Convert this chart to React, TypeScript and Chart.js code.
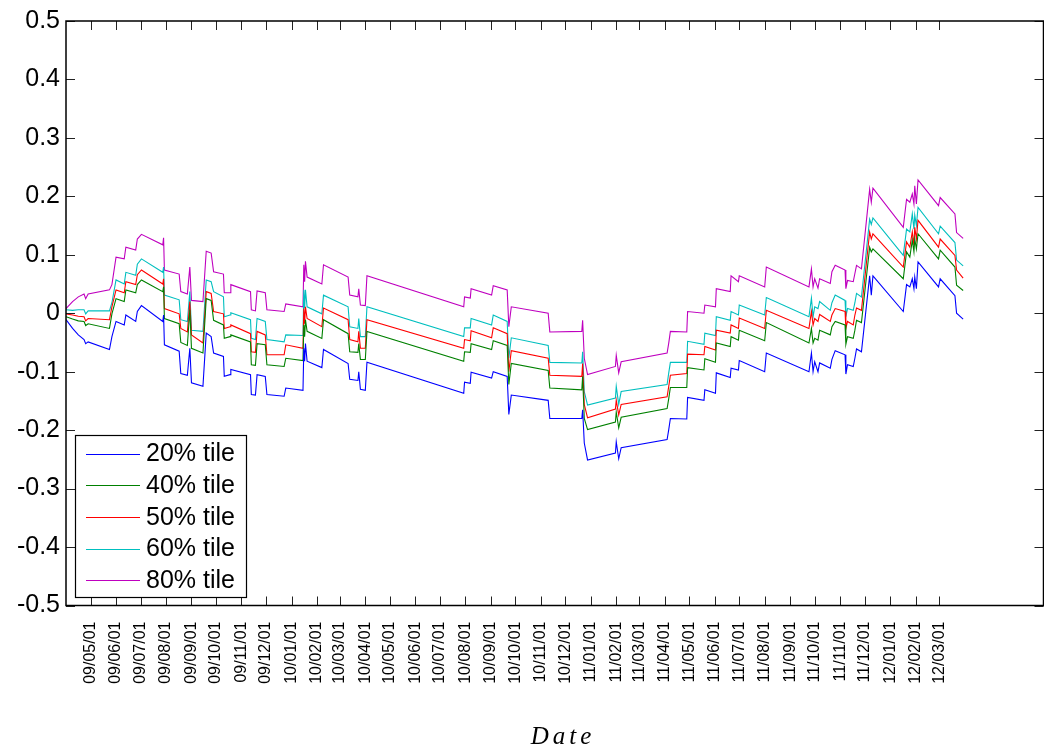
import React, { useEffect, useRef } from 'react';
import { Chart, registerables } from 'chart.js';

Chart.register(...registerables);

// Month-start tick labels (yy/mm/dd)
const tickLabels = [
  '09/05/01', '09/06/01', '09/07/01', '09/08/01', '09/09/01', '09/10/01', '09/11/01', '09/12/01',
  '10/01/01', '10/02/01', '10/03/01', '10/04/01', '10/05/01', '10/06/01', '10/07/01', '10/08/01',
  '10/09/01', '10/10/01', '10/11/01', '10/12/01',
  '11/01/01', '11/02/01', '11/03/01', '11/04/01', '11/05/01', '11/06/01', '11/07/01', '11/08/01',
  '11/09/01', '11/10/01', '11/11/01', '11/12/01',
  '12/01/01', '12/02/01', '12/03/01',
];
const yTicks = [-0.5, -0.4, -0.3, -0.2, -0.1, 0, 0.1, 0.2, 0.3, 0.4, 0.5];
const xRangeDays = [-30, 1162]; // days relative to 2009-05-01
const seriesLabels = ['20% tile', '40% tile', '50% tile', '60% tile', '80% tile'];
const seriesColors = ['#0000ff', '#008000', '#ff0000', '#00bfbf', '#bf00bf'];

// Days since 2009-05-01
const days = [
  -30, -22, -15, -8, -6, -3, 23, 26, 31, 41,
  43, 55, 57, 62, 88, 89, 90, 108, 110, 118,
  121, 123, 137, 141, 147, 150, 162, 163, 170, 171,
  195, 196, 201, 203, 213, 215, 236, 238, 259, 260,
  261, 262, 264, 282, 284, 314, 316, 326, 327, 329,
  335, 337, 455, 456, 463, 464, 489, 491, 508, 510,
  513, 558, 560, 599, 600, 602, 606, 640, 641, 644,
  647, 703, 705, 707, 727, 728, 748, 749, 762, 763,
  780, 781, 790, 791, 822, 824, 876, 879, 881, 883,
  887, 889, 902, 904, 908, 920, 921, 923, 930, 932,
  934, 940, 950, 952, 954, 991, 995, 999, 1002, 1004,
  1005, 1007, 1009, 1034, 1036, 1054, 1056, 1064,
];

const p80 = [
  0.008, 0.020, 0.028, 0.033, 0.025, 0.033, 0.040, 0.049, 0.096, 0.093,
  0.113, 0.108, 0.127, 0.135, 0.117, 0.129, 0.074, 0.067, 0.037, 0.033,
  0.079, 0.022, 0.020, 0.106, 0.103, 0.071, 0.067, 0.035, 0.035, 0.049,
  0.037, 0.006, 0.004, 0.038, 0.035, 0.006, 0.003, 0.016, 0.011, 0.083,
  0.054, 0.089, 0.062, 0.050, 0.083, 0.062, 0.031, 0.028, 0.042, 0.014,
  0.013, 0.064, 0.011, 0.028, 0.026, 0.042, 0.031, 0.047, 0.040, -0.023,
  0.011, 0.000, -0.032, -0.031, -0.012, -0.077, -0.105, -0.091, -0.072, -0.102,
  -0.083, -0.068, -0.051, -0.031, -0.032, 0.003, 0.000, 0.014, 0.011, 0.042,
  0.037, 0.064, 0.054, 0.064, 0.045, 0.079, 0.045, 0.076, 0.045, 0.059,
  0.043, 0.059, 0.051, 0.071, 0.082, 0.074, 0.042, 0.056, 0.054, 0.068,
  0.082, 0.076, 0.212, 0.190, 0.214, 0.147, 0.195, 0.190, 0.204, 0.187,
  0.218, 0.187, 0.228, 0.184, 0.198, 0.170, 0.138, 0.128,
];

const p60 = [
  0.006, 0.005, 0.006, 0.006, -0.001, 0.004, 0.004, 0.018, 0.057, 0.050,
  0.070, 0.065, 0.084, 0.093, 0.070, 0.079, 0.031, 0.023, -0.011, -0.014,
  0.037, -0.029, -0.031, 0.057, 0.054, 0.037, 0.028, -0.006, -0.003, 0.001,
  -0.011, -0.043, -0.045, -0.009, -0.014, -0.045, -0.049, -0.037, -0.038, 0.040,
  0.008, 0.040, 0.011, -0.001, 0.031, 0.011, -0.023, -0.026, -0.009, -0.040,
  -0.040, 0.011, -0.040, -0.025, -0.025, -0.009, -0.020, -0.003, -0.014, -0.077,
  -0.042, -0.055, -0.084, -0.085, -0.066, -0.134, -0.157, -0.145, -0.125, -0.156,
  -0.134, -0.122, -0.102, -0.084, -0.084, -0.048, -0.053, -0.034, -0.038, -0.006,
  -0.012, 0.003, -0.003, 0.014, -0.003, 0.027, -0.006, 0.026, -0.006, 0.011,
  0.008, 0.020, 0.005, 0.018, 0.031, 0.022, -0.006, 0.008, 0.005, 0.018,
  0.034, 0.028, 0.161, 0.152, 0.163, 0.099, 0.144, 0.139, 0.170, 0.144,
  0.168, 0.150, 0.181, 0.136, 0.149, 0.121, 0.091, 0.081,
];

const p50 = [
  -0.001, -0.003, -0.005, -0.006, -0.013, -0.009, -0.011, 0.011, 0.040, 0.035,
  0.054, 0.049, 0.066, 0.074, 0.050, 0.059, 0.008, -0.001, -0.026, -0.032,
  0.020, -0.037, -0.051, 0.037, 0.034, 0.003, -0.001, -0.026, -0.023, -0.020,
  -0.035, -0.066, -0.067, -0.031, -0.037, -0.071, -0.071, -0.054, -0.060, 0.008,
  -0.018, 0.011, -0.009, -0.023, 0.009, -0.011, -0.045, -0.049, -0.031, -0.060,
  -0.060, -0.011, -0.060, -0.045, -0.047, -0.030, -0.042, -0.025, -0.035, -0.100,
  -0.064, -0.077, -0.106, -0.108, -0.086, -0.156, -0.179, -0.164, -0.149, -0.174,
  -0.156, -0.143, -0.125, -0.106, -0.103, -0.070, -0.071, -0.057, -0.063, -0.029,
  -0.034, -0.020, -0.026, -0.008, -0.026, 0.005, -0.026, 0.003, -0.020, -0.009,
  -0.014, -0.002, -0.014, -0.003, 0.008, 0.003, -0.026, -0.014, -0.020, -0.003,
  0.009, 0.005, 0.139, 0.127, 0.136, 0.079, 0.122, 0.113, 0.139, 0.116,
  0.147, 0.127, 0.159, 0.113, 0.127, 0.099, 0.074, 0.060,
];

const p40 = [
  -0.006, -0.010, -0.013, -0.014, -0.021, -0.018, -0.026, -0.001, 0.025, 0.020,
  0.040, 0.035, 0.049, 0.057, 0.037, 0.045, -0.009, -0.018, -0.050, -0.055,
  0.006, -0.060, -0.068, 0.025, 0.022, -0.012, -0.020, -0.043, -0.040, -0.037,
  -0.049, -0.088, -0.089, -0.052, -0.054, -0.088, -0.091, -0.077, -0.081, -0.020,
  -0.040, -0.011, -0.031, -0.043, -0.011, -0.035, -0.066, -0.067, -0.052, -0.079,
  -0.079, -0.031, -0.082, -0.066, -0.067, -0.052, -0.062, -0.047, -0.055, -0.122,
  -0.086, -0.098, -0.128, -0.131, -0.108, -0.180, -0.199, -0.186, -0.169, -0.196,
  -0.178, -0.163, -0.146, -0.127, -0.127, -0.093, -0.097, -0.078, -0.084, -0.051,
  -0.057, -0.040, -0.046, -0.029, -0.047, -0.016, -0.051, -0.026, -0.051, -0.043,
  -0.046, -0.029, -0.037, -0.023, -0.014, -0.020, -0.053, -0.040, -0.043, -0.029,
  -0.012, -0.016, 0.113, 0.105, 0.110, 0.059, 0.105, 0.096, 0.125, 0.105,
  0.127, 0.110, 0.136, 0.093, 0.108, 0.079, 0.048, 0.039,
];

const p20 = [
  -0.011, -0.026, -0.037, -0.045, -0.052, -0.049, -0.062, -0.040, -0.014, -0.020,
  -0.003, -0.014, 0.003, 0.013, -0.014, -0.003, -0.054, -0.065, -0.103, -0.106,
  -0.060, -0.119, -0.125, -0.034, -0.040, -0.068, -0.074, -0.108, -0.105, -0.096,
  -0.105, -0.139, -0.140, -0.105, -0.108, -0.139, -0.142, -0.128, -0.132, -0.060,
  -0.082, -0.052, -0.082, -0.093, -0.062, -0.086, -0.113, -0.115, -0.100, -0.130,
  -0.132, -0.084, -0.137, -0.118, -0.120, -0.101, -0.111, -0.100, -0.108, -0.173,
  -0.140, -0.149, -0.180, -0.180, -0.165, -0.222, -0.251, -0.239, -0.220, -0.249,
  -0.230, -0.216, -0.199, -0.180, -0.181, -0.144, -0.149, -0.131, -0.137, -0.102,
  -0.110, -0.094, -0.097, -0.081, -0.100, -0.068, -0.100, -0.068, -0.100, -0.083,
  -0.100, -0.085, -0.094, -0.079, -0.064, -0.071, -0.104, -0.088, -0.091, -0.077,
  -0.061, -0.066, 0.064, 0.031, 0.064, 0.003, 0.049, 0.045, 0.059, 0.042,
  0.062, 0.042, 0.088, 0.045, 0.059, 0.030, 0.000, -0.010,
];

const seriesValues = [p20, p40, p50, p60, p80];

const ORIGIN = Date.UTC(2009, 4, 1);
function labelToDay(s: string): number {
  const [yy, mm, dd] = s.split('/').map(Number);
  return Math.round((Date.UTC(2000 + yy, mm - 1, dd) - ORIGIN) / 86400000);
}
const tickDays = tickLabels.map(labelToDay);

const SANS = '"Liberation Sans", Arial, Helvetica, sans-serif';

const framePlugin = {
  id: 'matlabFrame',
  afterDraw(chart: any) {
    const { ctx, chartArea } = chart;
    const { left, right, top, bottom } = chartArea;
    const xs = chart.scales.x;
    const ys = chart.scales.y;
    const TL = 9;
    ctx.save();
    // inward ticks on all four sides
    ctx.strokeStyle = '#222';
    ctx.lineWidth = 1;
    ctx.beginPath();
    tickDays.forEach((d) => {
      const px = Math.round(xs.getPixelForValue(d)) + 0.5;
      ctx.moveTo(px, bottom);
      ctx.lineTo(px, bottom - TL);
      ctx.moveTo(px, top);
      ctx.lineTo(px, top + TL);
    });
    yTicks.forEach((v) => {
      const py = Math.round(ys.getPixelForValue(v)) + 0.5;
      ctx.moveTo(left, py);
      ctx.lineTo(left + TL, py);
      ctx.moveTo(right, py);
      ctx.lineTo(right - TL, py);
    });
    ctx.stroke();
    // axes box
    ctx.strokeStyle = '#000';
    ctx.lineWidth = 1.5;
    ctx.strokeRect(left, top, right - left, bottom - top);

    // legend
    const lx = 75.5, ly = 435.5, lw = 171, lh = 162;
    ctx.fillStyle = '#fff';
    ctx.fillRect(lx, ly, lw, lh);
    ctx.strokeStyle = '#000';
    ctx.lineWidth = 1.2;
    ctx.strokeRect(lx, ly, lw, lh);
    ctx.font = '25px ' + SANS;
    ctx.textBaseline = 'middle';
    ctx.textAlign = 'left';
    for (let i = 0; i < seriesLabels.length; i++) {
      const cy = 453.5 + i * 31.7;
      ctx.fillStyle = seriesColors[i];
      ctx.fillRect(86, Math.round(cy), 54, 1);
      ctx.fillStyle = '#000';
      ctx.fillText(seriesLabels[i], 146, cy + 1);
    }

    // x axis title
    ctx.font = 'italic 25px "Liberation Serif", "DejaVu Serif", serif';
    ctx.textAlign = 'center';
    ctx.textBaseline = 'alphabetic';
    (ctx as any).letterSpacing = '4px';
    ctx.fillStyle = '#000';
    ctx.fillText('Date', 563, 744);
    ctx.restore();
  },
};

export default function App() {
  const ref = useRef<HTMLCanvasElement | null>(null);
  useEffect(() => {
    if (!ref.current) return;
    const datasets = seriesValues.map((vals, i) => ({
      label: seriesLabels[i],
      data: days.map((d, j) => ({ x: d, y: vals[j] })),
      borderColor: seriesColors[i],
      backgroundColor: seriesColors[i],
      borderWidth: 1.1,
      pointRadius: 0,
      tension: 0,
      fill: false,
    }));
    const chart = new Chart(ref.current, {
      type: 'line',
      data: { datasets },
      options: {
        animation: false,
        responsive: false,
        devicePixelRatio: 1,
        layout: { padding: { top: 18.5, right: 0.5, left: 0, bottom: 0 } },
        plugins: { legend: { display: false }, tooltip: { enabled: false } },
        scales: {
          x: {
            type: 'linear',
            min: xRangeDays[0],
            max: xRangeDays[1],
            grid: { display: false, drawTicks: false },
            border: { display: false },
            afterBuildTicks: (scale: any) => {
              scale.ticks = tickDays.map((d) => ({ value: d }));
            },
            afterFit: (scale: any) => {
              scale.height = 140.5;
            },
            ticks: {
              autoSkip: false,
              minRotation: 90,
              maxRotation: 90,
              padding: 16,
              color: '#000',
              font: { family: SANS, size: 16 },
              callback: (_v: any, i: number) => tickLabels[i],
            },
          },
          y: {
            type: 'linear',
            min: -0.5,
            max: 0.5,
            grid: { display: false, drawTicks: false },
            border: { display: false },
            afterBuildTicks: (scale: any) => {
              scale.ticks = yTicks.map((v) => ({ value: v }));
            },
            afterFit: (scale: any) => {
              scale.width = 66;
            },
            ticks: {
              padding: 6,
              color: '#000',
              font: { family: SANS, size: 25 },
              callback: (v: any) => {
                const r = Math.round(Number(v) * 10) / 10;
                return r === 0 ? '0' : r.toFixed(1);
              },
            },
          },
        },
      },
      plugins: [framePlugin],
    });
    return () => chart.destroy();
  }, []);
  return (
    <div style={{ position: 'absolute', left: 0, top: 0, width: 1044, height: 746, background: '#fff' }}>
      <canvas ref={ref} width={1044} height={746} />
    </div>
  );
}
